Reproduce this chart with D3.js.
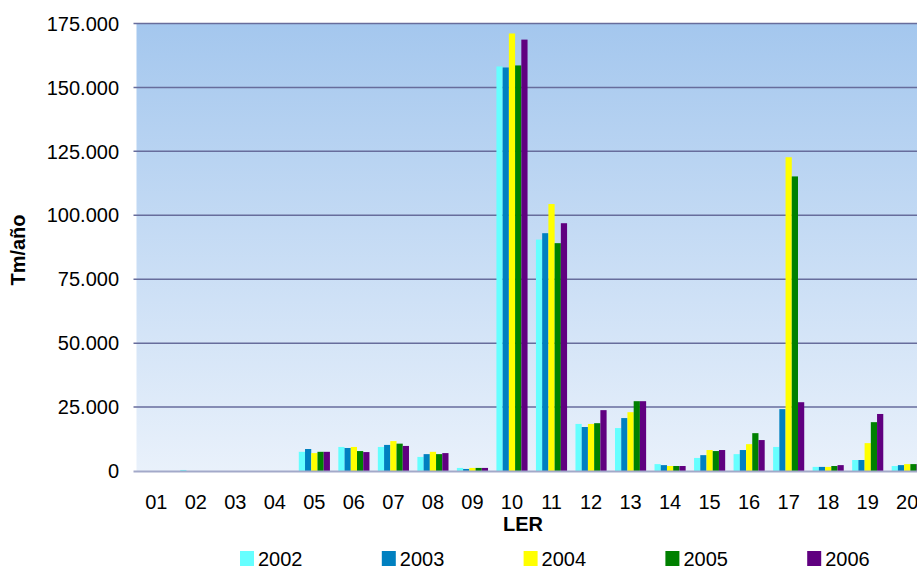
<!DOCTYPE html>
<meta charset="utf-8">
<style>
body {
  margin: 0;
  padding: 0;
  background: #fff;
}
svg {
  font-family: "Liberation Sans", Arial, sans-serif;
  font-size: 20px;
  display: block;
}
svg text {
  fill: #000;
}
.title {
  font-weight: bold;
}
</style>
<body>
<div id="chart"></div>
<script src="https://d3js.org/d3.v7.min.js"></script>
<script>

var categories = ["01", "02", "03", "04", "05", "06", "07", "08", "09", "10",
                  "11", "12", "13", "14", "15", "16", "17", "18", "19", "20"];
var years = ["2002", "2003", "2004", "2005", "2006"];
var colors = ["#66ffff", "#0080c0", "#ffff00", "#008000", "#600080"];

var v2002 = [0, 400, 0, 0, 7500, 9400, 9400, 5500, 1200, 158200, 90500, 18400, 16800, 2700, 5100, 6600, 9400, 1600, 4300, 1950];
var v2003 = [0, 0, 0, 0, 8600, 9000, 10200, 6600, 800, 157800, 93000, 17200, 20700, 2300, 6200, 8200, 24200, 1600, 4300, 2300];
var v2004 = [0, 0, 0, 0, 7000, 9400, 11700, 7500, 1200, 171100, 104400, 18400, 23000, 1950, 8200, 10500, 122700, 1600, 10900, 2700];
var v2005 = [0, 0, 0, 0, 7500, 7800, 10700, 6600, 1200, 158600, 89100, 18700, 27300, 1950, 7800, 14800, 115200, 1950, 19100, 2700];
var v2006 = [0, 0, 0, 0, 7500, 7400, 9800, 7000, 1200, 168700, 96900, 23800, 27300, 1950, 8200, 12100, 26900, 2300, 22300, 2700];

var yTicks = [0, 25000, 50000, 75000, 100000, 125000, 150000, 175000];

var series = [v2002, v2003, v2004, v2005, v2006];

var width = 917, height = 569;
var plot = { left: 136.5, top: 23.5, right: 927, bottom: 471 };

var svg = d3.select("#chart").append("svg")
  .attr("width", width)
  .attr("height", height);

var grad = svg.append("defs").append("linearGradient")
  .attr("id", "bg")
  .attr("x1", 0).attr("y1", 0).attr("x2", 0).attr("y2", 1);
grad.append("stop").attr("offset", "0%").attr("stop-color", "#a4c7ee");
grad.append("stop").attr("offset", "100%").attr("stop-color", "#e9f1fb");

var x0 = d3.scaleBand()
  .domain(categories)
  .range([plot.left, plot.right]);
var x1 = d3.scaleBand()
  .domain(years)
  .range([4.2, x0.bandwidth() - 4.2]);
var y = d3.scaleLinear()
  .domain([0, 175000])
  .range([plot.bottom, plot.top]);

var locale = d3.formatLocale({ decimal: ",", thousands: ".", grouping: [3], currency: ["", ""] });
var fmt = locale.format(",d");

svg.append("rect")
  .attr("x", plot.left)
  .attr("y", plot.top)
  .attr("width", plot.right - plot.left)
  .attr("height", plot.bottom - plot.top)
  .attr("fill", "url(#bg)");

// gridlines
svg.append("g")
  .selectAll("line")
  .data(yTicks.filter(function (d) { return d > 0; }))
  .enter().append("line")
    .attr("x1", plot.left - 3)
    .attr("x2", plot.right)
    .attr("y1", function (d) { return y(d); })
    .attr("y2", function (d) { return y(d); })
    .attr("stroke", "#676d9c")
    .attr("stroke-width", 1.5);

// y tick labels
svg.append("g")
  .selectAll("text")
  .data(yTicks)
  .enter().append("text")
    .attr("x", 119)
    .attr("y", function (d) { return y(d); })
    .attr("dy", "0.36em")
    .attr("text-anchor", "end")
    .text(function (d) { return fmt(d); });

// bars
var groups = svg.append("g")
  .selectAll("g")
  .data(categories)
  .enter().append("g")
    .attr("transform", function (d) { return "translate(" + x0(d) + ",0)"; });

groups.selectAll("rect")
  .data(function (d, i) {
    return years.map(function (yr, j) { return { year: yr, value: series[j][i], color: colors[j] }; });
  })
  .enter().append("rect")
    .attr("x", function (d) { return x1(d.year); })
    .attr("width", x1.bandwidth())
    .attr("y", function (d) { return y(d.value); })
    .attr("height", function (d) { return y(0) - y(d.value); })
    .attr("fill", function (d) { return d.color; });

// baseline
svg.append("line")
  .attr("x1", plot.left - 3)
  .attr("x2", plot.right)
  .attr("y1", y(0) + 0.5)
  .attr("y2", y(0) + 0.5)
  .attr("stroke", "#a3a9c9")
  .attr("stroke-width", 2);

// category labels
svg.append("g")
  .selectAll("text")
  .data(categories)
  .enter().append("text")
    .attr("x", function (d) { return x0(d) + x0.bandwidth() / 2; })
    .attr("y", 509)
    .attr("text-anchor", "middle")
    .text(function (d) { return d; });

// axis titles
svg.append("text")
  .attr("class", "title")
  .attr("x", 523)
  .attr("y", 531)
  .attr("text-anchor", "middle")
  .text("LER");

svg.append("text")
  .attr("class", "title")
  .attr("transform", "translate(25,250) rotate(-90)")
  .attr("text-anchor", "middle")
  .text("Tm/año");

// legend
var legend = svg.append("g")
  .selectAll("g")
  .data(years)
  .enter().append("g")
    .attr("transform", function (d, i) { return "translate(" + (240 + i * 141.8) + ",551)"; });
legend.append("rect")
  .attr("width", 14)
  .attr("height", 15)
  .attr("fill", function (d, i) { return colors[i]; });
legend.append("text")
  .attr("x", 18)
  .attr("y", 15)
  .text(function (d) { return d; });

</script>
